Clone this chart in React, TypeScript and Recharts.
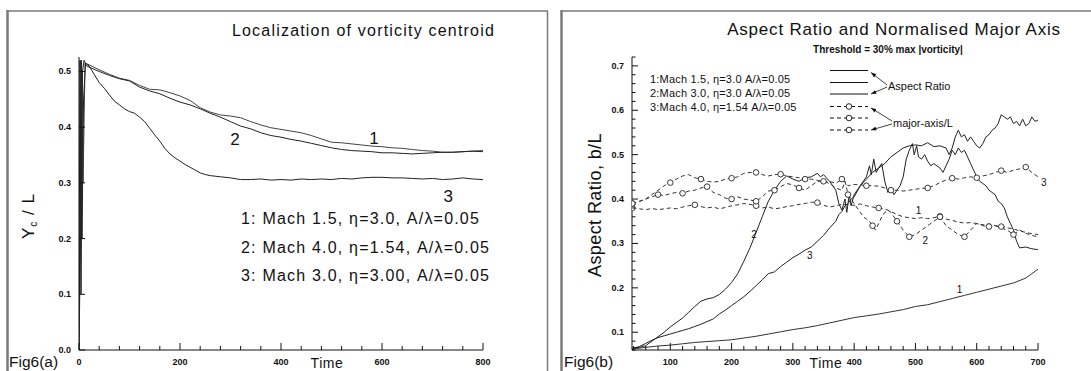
import React from 'react';
import { LineChart, Line, XAxis, YAxis, ReferenceDot } from 'recharts';

type P = [number, number];

// ---------- Fig 6(a): Localization of vorticity centroid ----------
const centroidMach15: P[] = [
  [0, 0], [3, 0.2], [5, 0.52], [8, 0.3], [12, 0.515], [20, 0.512], [40, 0.503], [60, 0.495], [80, 0.488],
  [100, 0.484], [120, 0.475], [140, 0.468], [160, 0.467], [180, 0.462], [200, 0.456], [220, 0.448],
  [240, 0.435], [260, 0.427], [280, 0.422], [300, 0.42], [320, 0.417], [340, 0.41], [360, 0.404],
  [380, 0.399], [400, 0.396], [420, 0.393], [440, 0.39], [460, 0.385], [480, 0.379], [500, 0.373],
  [520, 0.372], [540, 0.37], [560, 0.368], [580, 0.366], [600, 0.365], [620, 0.363], [640, 0.362],
  [660, 0.36], [680, 0.358], [700, 0.357], [720, 0.355], [740, 0.355], [760, 0.356], [780, 0.357], [800, 0.358],
];
const centroidMach40: P[] = [
  [0, 0.1], [2, 0.52], [4, 0.1], [7, 0.5], [10, 0.52], [15, 0.51], [40, 0.5], [60, 0.493], [80, 0.487],
  [100, 0.483], [120, 0.472], [140, 0.465], [160, 0.46], [180, 0.452], [200, 0.445], [220, 0.44],
  [240, 0.433], [260, 0.425], [280, 0.418], [300, 0.41], [320, 0.402], [340, 0.397], [360, 0.39],
  [380, 0.385], [400, 0.382], [420, 0.378], [440, 0.375], [460, 0.371], [480, 0.367], [500, 0.363],
  [520, 0.36], [540, 0.358], [560, 0.357], [580, 0.356], [600, 0.354], [620, 0.354], [640, 0.353],
  [660, 0.352], [680, 0.353], [700, 0.354], [720, 0.355], [740, 0.355], [760, 0.356], [780, 0.357], [800, 0.356],
];
const centroidMach30: P[] = [
  [0, 0], [4, 0.52], [6, 0.2], [9, 0.45], [13, 0.515], [20, 0.51], [30, 0.495], [40, 0.48], [50, 0.47],
  [60, 0.458], [70, 0.447], [80, 0.44], [90, 0.433], [100, 0.428], [110, 0.425], [120, 0.418], [130, 0.41],
  [140, 0.398], [150, 0.386], [160, 0.375], [170, 0.362], [180, 0.352], [190, 0.345], [200, 0.339],
  [210, 0.333], [220, 0.328], [230, 0.323], [240, 0.318], [250, 0.315], [260, 0.313], [280, 0.311],
  [300, 0.309], [320, 0.306], [340, 0.306], [360, 0.307], [380, 0.305], [400, 0.306], [420, 0.305],
  [440, 0.307], [460, 0.306], [480, 0.307], [500, 0.306], [520, 0.308], [540, 0.307], [560, 0.309],
  [580, 0.31], [600, 0.31], [620, 0.309], [640, 0.309], [660, 0.308], [680, 0.307], [700, 0.308],
  [720, 0.306], [740, 0.307], [760, 0.309], [780, 0.307], [800, 0.306],
];
const xLabelsA = [0, 200, 400, 600, 800];
const yLabelsA = [0, 0.1, 0.2, 0.3, 0.4, 0.5];
const legendA = [
  '1: Mach 1.5, η=3.0, A/λ=0.05',
  '2: Mach 4.0, η=1.54, A/λ=0.05',
  '3: Mach 3.0, η=3.00, A/λ=0.05',
];

// ---------- Fig 6(b): Aspect ratio and normalised major axis ----------
const aspectMach15: P[] = [
  [38, 0.062], [60, 0.066], [80, 0.069], [100, 0.071], [120, 0.074], [140, 0.077], [160, 0.079], [180, 0.081],
  [200, 0.083], [220, 0.087], [240, 0.091], [260, 0.096], [280, 0.101], [300, 0.106], [320, 0.11], [340, 0.115],
  [360, 0.121], [380, 0.127], [400, 0.133], [420, 0.137], [440, 0.141], [460, 0.146], [480, 0.151], [500, 0.158],
  [520, 0.162], [540, 0.169], [560, 0.176], [580, 0.183], [600, 0.19], [620, 0.197], [640, 0.204], [660, 0.211],
  [680, 0.222], [690, 0.232], [700, 0.242],
];
const aspectMach30: P[] = [
  [38, 0.065], [50, 0.066], [60, 0.07], [70, 0.08], [80, 0.09], [90, 0.1], [100, 0.112], [110, 0.122],
  [120, 0.132], [130, 0.145], [140, 0.158], [150, 0.17], [160, 0.175], [170, 0.178], [180, 0.185], [190, 0.197],
  [200, 0.212], [210, 0.232], [220, 0.26], [230, 0.29], [240, 0.325], [250, 0.36], [260, 0.395], [270, 0.42],
  [280, 0.44], [290, 0.452], [300, 0.445], [310, 0.44], [320, 0.448], [330, 0.45], [340, 0.458], [345, 0.45],
  [350, 0.455], [360, 0.44], [365, 0.43], [370, 0.42], [375, 0.39], [380, 0.375], [385, 0.4], [388, 0.37],
  [392, 0.41], [395, 0.385], [400, 0.41], [410, 0.43], [420, 0.45], [425, 0.475], [428, 0.455], [432, 0.49],
  [436, 0.46], [440, 0.47], [445, 0.48], [450, 0.44], [455, 0.415], [460, 0.425], [465, 0.41], [470, 0.42],
  [475, 0.43], [480, 0.45], [485, 0.49], [490, 0.51], [495, 0.525], [498, 0.5], [502, 0.52], [505, 0.495],
  [510, 0.49], [515, 0.5], [520, 0.485], [525, 0.475], [530, 0.48], [540, 0.47], [545, 0.46], [550, 0.475],
  [555, 0.49], [560, 0.51], [565, 0.5], [570, 0.515], [575, 0.505], [580, 0.51], [585, 0.495], [590, 0.48],
  [595, 0.465], [600, 0.45], [605, 0.44], [610, 0.435], [615, 0.43], [620, 0.42], [625, 0.415], [630, 0.41],
  [635, 0.395], [640, 0.39], [645, 0.38], [650, 0.36], [655, 0.345], [660, 0.33], [665, 0.305], [670, 0.29],
  [680, 0.292], [690, 0.288], [700, 0.286],
];
const aspectMach40: P[] = [
  [38, 0.063], [50, 0.068], [60, 0.075], [70, 0.082], [80, 0.088], [90, 0.092], [100, 0.096], [110, 0.1],
  [120, 0.104], [130, 0.108], [140, 0.113], [150, 0.118], [160, 0.124], [170, 0.13], [180, 0.141], [190, 0.15],
  [200, 0.16], [210, 0.17], [220, 0.18], [230, 0.192], [240, 0.205], [250, 0.218], [260, 0.232], [270, 0.236],
  [280, 0.248], [290, 0.258], [300, 0.268], [310, 0.276], [320, 0.285], [330, 0.292], [340, 0.305], [350, 0.318],
  [360, 0.335], [370, 0.35], [375, 0.365], [380, 0.372], [385, 0.385], [390, 0.39], [395, 0.4], [400, 0.405],
  [410, 0.43], [420, 0.445], [430, 0.46], [440, 0.47], [450, 0.48], [460, 0.495], [470, 0.505], [480, 0.515],
  [490, 0.52], [500, 0.522], [510, 0.52], [520, 0.527], [530, 0.518], [540, 0.52], [550, 0.515], [555, 0.5],
  [560, 0.515], [565, 0.54], [570, 0.555], [575, 0.54], [580, 0.545], [585, 0.53], [590, 0.54], [595, 0.53],
  [600, 0.52], [605, 0.515], [610, 0.525], [615, 0.54], [620, 0.545], [625, 0.555], [630, 0.56], [635, 0.57],
  [640, 0.59], [645, 0.585], [650, 0.58], [655, 0.585], [660, 0.57], [665, 0.575], [670, 0.565], [675, 0.58],
  [680, 0.565], [685, 0.57], [690, 0.585], [695, 0.575], [700, 0.578],
];
const majorMach15: P[] = [
  [38, 0.38], [50, 0.378], [60, 0.376], [70, 0.379], [80, 0.376], [90, 0.378], [100, 0.38], [110, 0.378],
  [120, 0.382], [130, 0.385], [140, 0.387], [150, 0.383], [160, 0.38], [170, 0.382], [180, 0.378], [190, 0.381],
  [200, 0.385], [210, 0.387], [220, 0.39], [230, 0.388], [240, 0.385], [250, 0.38], [260, 0.382], [270, 0.378],
  [280, 0.38], [290, 0.383], [300, 0.385], [310, 0.388], [320, 0.39], [330, 0.393], [340, 0.392], [350, 0.386],
  [360, 0.382], [370, 0.385], [380, 0.388], [390, 0.387], [400, 0.386], [410, 0.389], [420, 0.385], [430, 0.382],
  [440, 0.38], [450, 0.378], [460, 0.372], [470, 0.365], [480, 0.36], [490, 0.358], [500, 0.356], [510, 0.358],
  [520, 0.356], [530, 0.358], [540, 0.361], [550, 0.355], [560, 0.352], [570, 0.348], [580, 0.346], [590, 0.347],
  [600, 0.345], [610, 0.342], [620, 0.344], [630, 0.34], [640, 0.338], [650, 0.335], [660, 0.333], [670, 0.328],
  [680, 0.325], [690, 0.322], [700, 0.32],
];
const majorMach30: P[] = [
  [38, 0.39], [50, 0.395], [60, 0.4], [70, 0.405], [80, 0.41], [90, 0.408], [100, 0.412], [110, 0.415],
  [120, 0.413], [130, 0.418], [140, 0.42], [150, 0.425], [160, 0.428], [170, 0.415], [180, 0.41], [190, 0.402],
  [200, 0.4], [210, 0.405], [220, 0.4], [230, 0.398], [240, 0.395], [250, 0.405], [260, 0.418], [270, 0.42],
  [280, 0.428], [290, 0.435], [300, 0.432], [310, 0.425], [320, 0.42], [330, 0.43], [340, 0.44], [350, 0.44],
  [360, 0.435], [370, 0.425], [380, 0.42], [385, 0.44], [390, 0.41], [395, 0.4], [400, 0.39], [405, 0.38],
  [410, 0.37], [415, 0.36], [420, 0.355], [425, 0.35], [430, 0.34], [435, 0.33], [440, 0.345], [445, 0.36],
  [450, 0.37], [455, 0.375], [460, 0.37], [470, 0.35], [480, 0.33], [490, 0.315], [500, 0.32], [510, 0.33],
  [520, 0.34], [530, 0.35], [540, 0.36], [550, 0.34], [560, 0.33], [570, 0.32], [580, 0.315], [590, 0.33],
  [600, 0.345], [610, 0.34], [620, 0.338], [630, 0.34], [640, 0.335], [650, 0.33], [660, 0.32], [670, 0.33],
  [680, 0.323], [690, 0.318], [700, 0.315],
];
const majorMach40: P[] = [
  [38, 0.39], [50, 0.395], [60, 0.4], [70, 0.41], [80, 0.42], [90, 0.43], [100, 0.437], [110, 0.445],
  [120, 0.452], [130, 0.455], [140, 0.448], [150, 0.445], [160, 0.44], [170, 0.438], [180, 0.44], [190, 0.445],
  [200, 0.447], [210, 0.45], [220, 0.458], [230, 0.46], [240, 0.46], [250, 0.455], [260, 0.452], [270, 0.455],
  [280, 0.456], [290, 0.452], [300, 0.45], [310, 0.448], [320, 0.445], [330, 0.445], [340, 0.442], [350, 0.44],
  [360, 0.44], [370, 0.435], [380, 0.445], [390, 0.43], [400, 0.433], [410, 0.432], [420, 0.43], [430, 0.43],
  [440, 0.429], [450, 0.425], [460, 0.42], [470, 0.42], [480, 0.418], [490, 0.42], [500, 0.422], [510, 0.424],
  [520, 0.425], [530, 0.43], [540, 0.437], [550, 0.443], [560, 0.447], [570, 0.445], [580, 0.448], [590, 0.45],
  [600, 0.448], [610, 0.452], [620, 0.455], [630, 0.46], [640, 0.464], [650, 0.46], [660, 0.465], [670, 0.468],
  [680, 0.472], [690, 0.46], [700, 0.45],
];
const majorMach15Marks = [38, 140, 240, 340, 440, 540, 640];
const majorMach30Marks = [38, 80, 120, 160, 200, 240, 270, 310, 350, 390, 430, 470, 490, 540, 580, 620, 660];
const majorMach40Marks = [38, 100, 150, 200, 240, 280, 320, 380, 420, 460, 520, 560, 600, 640, 680];
const xLabelsB = [100, 200, 300, 400, 500, 600, 700];
const yLabelsB = [0.1, 0.2, 0.3, 0.4, 0.5, 0.6, 0.7];
const legendB = [
  '1:Mach 1.5, η=3.0 A/λ=0.05',
  '2:Mach 3.0, η=3.0 A/λ=0.05',
  '3:Mach 4.0, η=1.54 A/λ=0.05',
];

const FONT = "'Liberation Sans', Arial, Helvetica, sans-serif";
const INK = '#111';

const range = (a: number, b: number, s: number) => {
  const out: number[] = [];
  for (let i = 0; a + i * s <= b + 1e-9; i++) out.push(Math.round((a + i * s) * 1000) / 1000);
  return out;
};
const isIn = (arr: number[], v: number) => arr.some((l) => Math.abs(l - v) < 1e-6);

const toPts = (arr: P[], marks: number[] = []) => arr.map(([t, v]) => ({ t, v, m: isIn(marks, t) }));

const makeXTick = (labels: number[]) => (props: any) => {
  const { x, y, payload } = props;
  const v = payload.value;
  const major = isIn(labels, v);
  return (
    <g>
      <line x1={x} y1={y} x2={x} y2={y - (major ? 7 : 4)} stroke={INK} strokeWidth={1} />
      {major && (
        <text x={x} y={y + 14.5} textAnchor="middle" fontSize={9} fontWeight="bold" fill={INK} fontFamily={FONT}>
          {String(v)}
        </text>
      )}
    </g>
  );
};
const makeYTick = (labels: number[], minorLen: number) => (props: any) => {
  const { x, y, payload } = props;
  const v = payload.value;
  const major = isIn(labels, v);
  return (
    <g>
      <line x1={x} y1={y} x2={x + (major ? 6 : minorLen)} y2={y} stroke={INK} strokeWidth={1} />
      {major && (
        <text x={x - 8} y={y + 3} textAnchor="end" fontSize={9} fontWeight="bold" fill={INK} fontFamily={FONT}>
          {v.toFixed(1)}
        </text>
      )}
    </g>
  );
};

const circleDot = (props: any) => {
  const { cx, cy, payload, index } = props;
  if (!payload || !payload.m) return <g key={`n${index}`} />;
  return <circle key={`c${index}`} cx={cx} cy={cy} r={2.8} fill="#fff" stroke="#222" strokeWidth={0.9} />;
};

const numLabel = (value: string, size: number) => ({
  value,
  position: 'center' as const,
  fontSize: size,
  fill: INK,
  fontFamily: FONT,
});

const W = 1091;
const H = 371;

function PanelA() {
  return (
    <LineChart width={W} height={H} margin={{ left: 78, right: W - 483, top: 57, bottom: 20 }}>
      <XAxis
        type="number"
        dataKey="t"
        domain={[0, 800]}
        ticks={range(0, 800, 40)}
        interval={0}
        height={1}
        tickSize={0}
        tickMargin={0}
        tickLine={false}
        tick={makeXTick(xLabelsA)}
        axisLine={{ stroke: INK, strokeWidth: 1 }}
        allowDataOverflow
      />
      <YAxis
        type="number"
        dataKey="v"
        domain={[0, 0.526]}
        ticks={yLabelsA}
        interval={0}
        width={1}
        tickSize={0}
        tickMargin={0}
        tickLine={false}
        tick={makeYTick(yLabelsA, 4)}
        axisLine={{ stroke: INK, strokeWidth: 1 }}
        allowDataOverflow
      />
      <Line data={toPts(centroidMach15)} dataKey="v" type="linear" stroke="#444" strokeWidth={1} dot={false} isAnimationActive={false} />
      <Line data={toPts(centroidMach40)} dataKey="v" type="linear" stroke="#222" strokeWidth={1} dot={false} isAnimationActive={false} />
      <Line data={toPts(centroidMach30)} dataKey="v" type="linear" stroke="#222" strokeWidth={1} dot={false} isAnimationActive={false} />
      <ReferenceDot x={309} y={0.3795} r={0} fill="none" stroke="none" ifOverflow="visible" label={numLabel('2', 17)} />
      <ReferenceDot x={584} y={0.381} r={0} fill="none" stroke="none" ifOverflow="visible" label={numLabel('1', 17)} />
      <ReferenceDot x={731} y={0.277} r={0} fill="none" stroke="none" ifOverflow="visible" label={numLabel('3', 17)} />
    </LineChart>
  );
}

function PanelB() {
  return (
    <LineChart width={W} height={H} margin={{ left: 631, right: W - 1038, top: 57, bottom: 20 }}>
      <XAxis
        type="number"
        dataKey="t"
        domain={[37.5, 700]}
        ticks={range(40, 700, 20)}
        interval={0}
        height={1}
        tickSize={0}
        tickMargin={0}
        tickLine={false}
        tick={makeXTick(xLabelsB)}
        axisLine={{ stroke: INK, strokeWidth: 1 }}
        allowDataOverflow
      />
      <YAxis
        type="number"
        dataKey="v"
        domain={[0.06, 0.72]}
        ticks={range(0.06, 0.72, 0.02)}
        interval={0}
        width={1}
        tickSize={0}
        tickMargin={0}
        tickLine={false}
        tick={makeYTick(yLabelsB, 3.5)}
        axisLine={{ stroke: INK, strokeWidth: 1 }}
        allowDataOverflow
      />
      <Line data={toPts(aspectMach15)} dataKey="v" type="linear" stroke="#333" strokeWidth={1} dot={false} isAnimationActive={false} />
      <Line data={toPts(aspectMach30)} dataKey="v" type="linear" stroke="#222" strokeWidth={1} dot={false} isAnimationActive={false} />
      <Line data={toPts(aspectMach40)} dataKey="v" type="linear" stroke="#222" strokeWidth={1} dot={false} isAnimationActive={false} />
      <Line data={toPts(majorMach15, majorMach15Marks)} dataKey="v" type="linear" stroke="#333" strokeWidth={1} strokeDasharray="4 3" dot={circleDot} isAnimationActive={false} />
      <Line data={toPts(majorMach30, majorMach30Marks)} dataKey="v" type="linear" stroke="#333" strokeWidth={1} strokeDasharray="4 3" dot={circleDot} isAnimationActive={false} />
      <Line data={toPts(majorMach40, majorMach40Marks)} dataKey="v" type="linear" stroke="#333" strokeWidth={1} strokeDasharray="4 3" dot={circleDot} isAnimationActive={false} />
      <ReferenceDot x={236.5} y={0.32} r={0} fill="none" stroke="none" ifOverflow="visible" label={numLabel('2', 10)} />
      <ReferenceDot x={327.5} y={0.2725} r={0} fill="none" stroke="none" ifOverflow="visible" label={numLabel('3', 10)} />
      <ReferenceDot x={572} y={0.1955} r={0} fill="none" stroke="none" ifOverflow="visible" label={numLabel('1', 10)} />
      <ReferenceDot x={505} y={0.3747} r={0} fill="none" stroke="none" ifOverflow="visible" label={numLabel('1', 10)} />
      <ReferenceDot x={516} y={0.306} r={0} fill="none" stroke="none" ifOverflow="visible" label={numLabel('2', 10)} />
      <ReferenceDot x={709.6} y={0.438} r={0} fill="none" stroke="none" ifOverflow="visible" label={numLabel('3', 10)} />
    </LineChart>
  );
}

function Overlay() {
  const frame = '#7a7a7a';
  return (
    <svg width={W} height={H} style={{ position: 'absolute', left: 0, top: 0, pointerEvents: 'none' }} fontFamily={FONT}>
      <defs>
        <marker id="ah" viewBox="0 0 8 6" refX="8" refY="3" markerWidth="7" markerHeight="5" orient="auto">
          <path d="M0,0 L8,3 L0,6 z" fill={INK} />
        </marker>
      </defs>
      {/* frames */}
      <line x1={7.5} y1={10} x2={7.5} y2={H} stroke={frame} strokeWidth={2.5} />
      <line x1={8} y1={11} x2={548} y2={11} stroke={frame} strokeWidth={1.5} />
      <line x1={547.5} y1={11} x2={547.5} y2={H} stroke={frame} strokeWidth={1.5} />
      <line x1={561.5} y1={10} x2={561.5} y2={H} stroke={frame} strokeWidth={2.5} />
      <line x1={562} y1={11} x2={W} y2={11} stroke={frame} strokeWidth={1.5} />

      {/* panel a texts */}
      <text x={363.5} y={36} textAnchor="middle" fontSize={16} letterSpacing={1.2} fill={INK}>
        Localization of vorticity centroid
      </text>
      {legendA.map((s, i) => (
        <text key={s} x={241} y={224 + i * 28.5} fontSize={16} letterSpacing={1.2} fill={INK}>
          {s}
        </text>
      ))}
      <g transform="translate(34 216) rotate(-90)">
        <text x={0} y={0} textAnchor="middle" fontSize={17} letterSpacing={1} fill={INK}>
          Y<tspan fontSize={10} dy={3}>c</tspan>
          <tspan dy={-3}> / L</tspan>
        </text>
      </g>
      <text x={327} y={367.5} textAnchor="middle" fontSize={14} letterSpacing={0.6} fill={INK}>Time</text>
      <text x={9} y={366.5} fontSize={15.5} fill={INK}>Fig6(a)</text>

      {/* panel b texts */}
      <text x={894} y={35} textAnchor="middle" fontSize={17} letterSpacing={0.8} fill={INK}>
        Aspect Ratio and Normalised Major Axis
      </text>
      <text x={888} y={52.5} textAnchor="middle" fontSize={10} fontWeight="bold" fill={INK}>
        Threshold = 30% max |vorticity|
      </text>
      {legendB.map((s, i) => (
        <text key={s} x={650} y={82.5 + i * 14} fontSize={11} letterSpacing={0.2} fill={INK}>
          {s}
        </text>
      ))}
      {[70.5, 82.5, 94].map((y) => (
        <line key={`s${y}`} x1={830} y1={y} x2={868} y2={y} stroke={INK} strokeWidth={1} />
      ))}
      {[106.5, 118, 130].map((y) => (
        <g key={`d${y}`}>
          <line x1={830} y1={y} x2={868} y2={y} stroke={INK} strokeWidth={1} strokeDasharray="4 3" />
          <circle cx={849} cy={y} r={2.8} fill="#fff" stroke={INK} strokeWidth={0.9} />
        </g>
      ))}
      <line x1={887} y1={85} x2={871} y2={72.5} stroke={INK} strokeWidth={0.8} markerEnd="url(#ah)" />
      <line x1={887} y1={87} x2={871} y2={94} stroke={INK} strokeWidth={0.8} markerEnd="url(#ah)" />
      <text x={888} y={90} fontSize={11} fill={INK}>Aspect Ratio</text>
      <line x1={892} y1={121} x2={871} y2={108} stroke={INK} strokeWidth={0.8} markerEnd="url(#ah)" />
      <line x1={892} y1={124} x2={871} y2={130} stroke={INK} strokeWidth={0.8} markerEnd="url(#ah)" />
      <text x={893} y={126.5} fontSize={11} fill={INK}>major-axis/L</text>
      <g transform="translate(601 205) rotate(-90)">
        <text x={0} y={0} textAnchor="middle" fontSize={18} letterSpacing={0.4} fill={INK}>
          Aspect Ratio, b/L
        </text>
      </g>
      <text x={826} y={367.5} textAnchor="middle" fontSize={14} letterSpacing={0.6} fill={INK}>Time</text>
      <text x={564} y={366.5} fontSize={15.5} fill={INK}>Fig6(b)</text>
    </svg>
  );
}

export default function App() {
  return (
    <div style={{ position: 'absolute', left: 0, top: 0, width: W, height: H, background: '#fff', overflow: 'hidden' }}>
      <div style={{ position: 'absolute', left: 0, top: 0 }}>
        <PanelA />
      </div>
      <div style={{ position: 'absolute', left: 0, top: 0 }}>
        <PanelB />
      </div>
      <Overlay />
    </div>
  );
}
